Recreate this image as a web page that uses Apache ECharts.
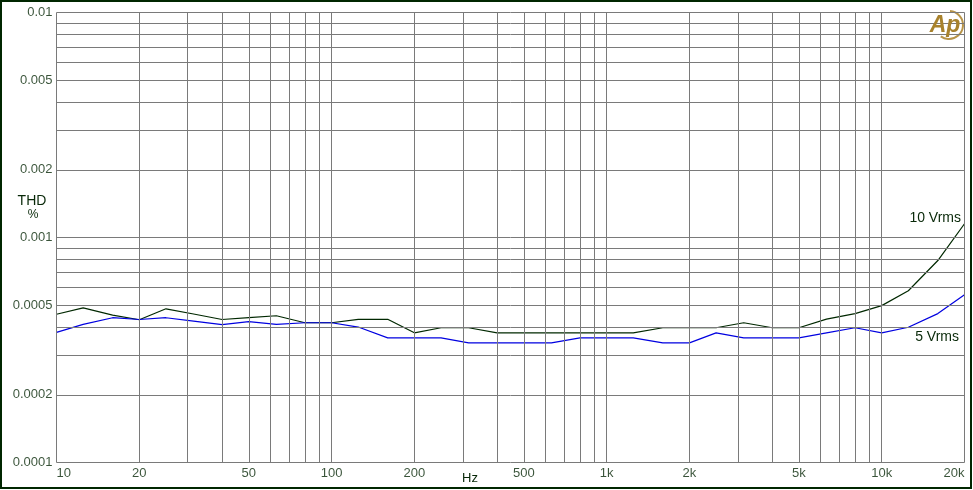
<!DOCTYPE html>
<html>
<head>
<meta charset="utf-8">
<script src="https://cdn.jsdelivr.net/npm/echarts@6/dist/echarts.min.js"></script>
<style>html,body{margin:0;padding:0;background:#fff;}#c{width:973px;height:490px;}</style>
</head>
<body>
<div id="c"></div>
<script>
// 1/3-octave frequencies (Hz)
const freqs = [10,12.5,16,20,25,31.5,40,50,63,80,100,125,160,200,250,315,400,500,630,800,1000,1250,1600,2000,2500,3150,4000,5000,6300,8000,10000,12500,16000,20000];
// THD % at 10 Vrms
const thd10 = [0.000456,0.000487,0.000452,0.000431,0.000482,0.000457,0.000432,0.000440,0.000449,0.000418,0.000418,0.000433,0.000433,0.000377,0.000397,0.000397,0.000377,0.000377,0.000377,0.000377,0.000377,0.000377,0.000397,0.000397,0.000397,0.000418,0.000397,0.000397,0.000434,0.000459,0.000498,0.000580,0.000790,0.001151];
// THD % at 5 Vrms
const thd5 = [0.000379,0.000411,0.000440,0.000432,0.000440,0.000425,0.000410,0.000423,0.000411,0.000418,0.000418,0.000400,0.000358,0.000358,0.000358,0.000340,0.000340,0.000340,0.000340,0.000358,0.000358,0.000358,0.000340,0.000340,0.000377,0.000358,0.000358,0.000358,0.000377,0.000397,0.000377,0.000399,0.000459,0.000557];
// tick labels
const xTickVals = [10,20,50,100,200,500,1000,2000,5000,10000,20000];
const xTickText = ['10','20','50','100','200','500','1k','2k','5k','10k','20k'];
const yTickVals = [0.01,0.005,0.002,0.001,0.0005,0.0002,0.0001];
const yTickText = ['0.01','0.005','0.002','0.001','0.0005','0.0002','0.0001'];
// grid lines
const xGrid = [10,20,30,40,50,60,70,80,90,100,200,300,400,500,600,700,800,900,1000,2000,3000,4000,5000,6000,7000,8000,9000,10000,20000];
const yGrid = [0.0001,0.0002,0.0003,0.0004,0.0005,0.0006,0.0007,0.0008,0.0009,0.001,0.002,0.003,0.004,0.005,0.006,0.007,0.008,0.009,0.01];

const X_MIN = 10, X_MAX = 20000, Y_MIN = 0.0001, Y_MAX = 0.01;
const txtColor = '#082808';
const font = 'Liberation Sans, Arial, sans-serif';

const chart = echarts.init(document.getElementById('c'), null, {renderer: 'canvas'});

const gridLines = [];
xGrid.forEach(v => gridLines.push([{coord: [v, Y_MIN]}, {coord: [v, Y_MAX]}]));
yGrid.forEach(v => gridLines.push([{coord: [X_MIN, v]}, {coord: [X_MAX, v]}]));

const xLabelData = xTickVals.map((v, i) => ({
  value: [v, Y_MIN],
  label: {formatter: xTickText[i], align: i === 0 ? 'left' : (i === xTickVals.length - 1 ? 'right' : 'center')}
}));
const yLabelData = yTickVals.map((v, i) => ({value: [X_MIN, v], label: {formatter: yTickText[i]}}));

chart.setOption({
  animation: false,
  backgroundColor: '#ffffff',
  grid: {left: 56.5, top: 12.5, width: 908, height: 450, containLabel: false},
  xAxis: {type: 'log', logBase: 10, min: X_MIN, max: X_MAX,
    axisLine: {show: false}, axisTick: {show: false}, axisLabel: {show: false}, splitLine: {show: false}},
  yAxis: {type: 'log', logBase: 10, min: Y_MIN, max: Y_MAX,
    axisLine: {show: false}, axisTick: {show: false}, axisLabel: {show: false}, splitLine: {show: false}},
  series: [
    {
      type: 'scatter', z: 1, silent: true, clip: false,
      symbolSize: 0, itemStyle: {color: 'rgba(0,0,0,0)'},
      data: xLabelData,
      label: {show: true, position: 'bottom', distance: 4, color: txtColor, fontFamily: font, fontSize: 13},
      markLine: {silent: true, symbol: 'none', animation: false,
        lineStyle: {color: '#7a7a7a', width: 1, type: 'solid'},
        label: {show: false}, emphasis: {disabled: true},
        data: gridLines}
    },
    {
      type: 'scatter', z: 1, silent: true, clip: false,
      symbolSize: 0, itemStyle: {color: 'rgba(0,0,0,0)'},
      data: yLabelData,
      label: {show: true, position: 'left', distance: 4, color: txtColor, fontFamily: font, fontSize: 13}
    },
    {
      name: '10 Vrms', type: 'line', z: 3, silent: true, showSymbol: false, symbol: 'none',
      lineStyle: {color: '#002800', width: 1.2},
      data: freqs.map((f, i) => [f, thd10[i]])
    },
    {
      name: '5 Vrms', type: 'line', z: 4, silent: true, showSymbol: false, symbol: 'none',
      lineStyle: {color: '#0000e0', width: 1.2},
      data: freqs.map((f, i) => [f, thd5[i]])
    }
  ],
  graphic: [
    {type: 'rect', shape: {x: 1, y: 1, width: 970, height: 487}, style: {fill: 'none', stroke: '#002600', lineWidth: 2}, z: 10},
    {type: 'text', x: 32, y: 201, style: {text: 'THD', fill: txtColor, font: '14px ' + font, textAlign: 'center', textVerticalAlign: 'middle'}},
    {type: 'text', x: 33, y: 215, style: {text: '%', fill: txtColor, font: '12px ' + font, textAlign: 'center', textVerticalAlign: 'middle'}},
    {type: 'text', x: 470, y: 478, style: {text: 'Hz', fill: txtColor, font: '13px ' + font, textAlign: 'center', textVerticalAlign: 'middle'}},
    {type: 'text', x: 961, y: 218, style: {text: '10 Vrms', fill: txtColor, font: '14px ' + font, textAlign: 'right', textVerticalAlign: 'middle'}},
    {type: 'text', x: 959, y: 337, style: {text: '5 Vrms', fill: txtColor, font: '14px ' + font, textAlign: 'right', textVerticalAlign: 'middle'}},
    {type: 'arc', shape: {cx: 949, cy: 25, r: 14, startAngle: -1.5, endAngle: 2.2, clockwise: true},
      style: {stroke: '#b89448', lineWidth: 2, fill: 'none'}, z: 5},
    {type: 'text', x: 945, y: 26, style: {text: 'Ap', fill: '#a8822c', font: 'italic bold 23px Liberation Sans, Arial, sans-serif', textAlign: 'center', textVerticalAlign: 'middle'}, z: 6}
  ]
});
</script>
</body>
</html>
